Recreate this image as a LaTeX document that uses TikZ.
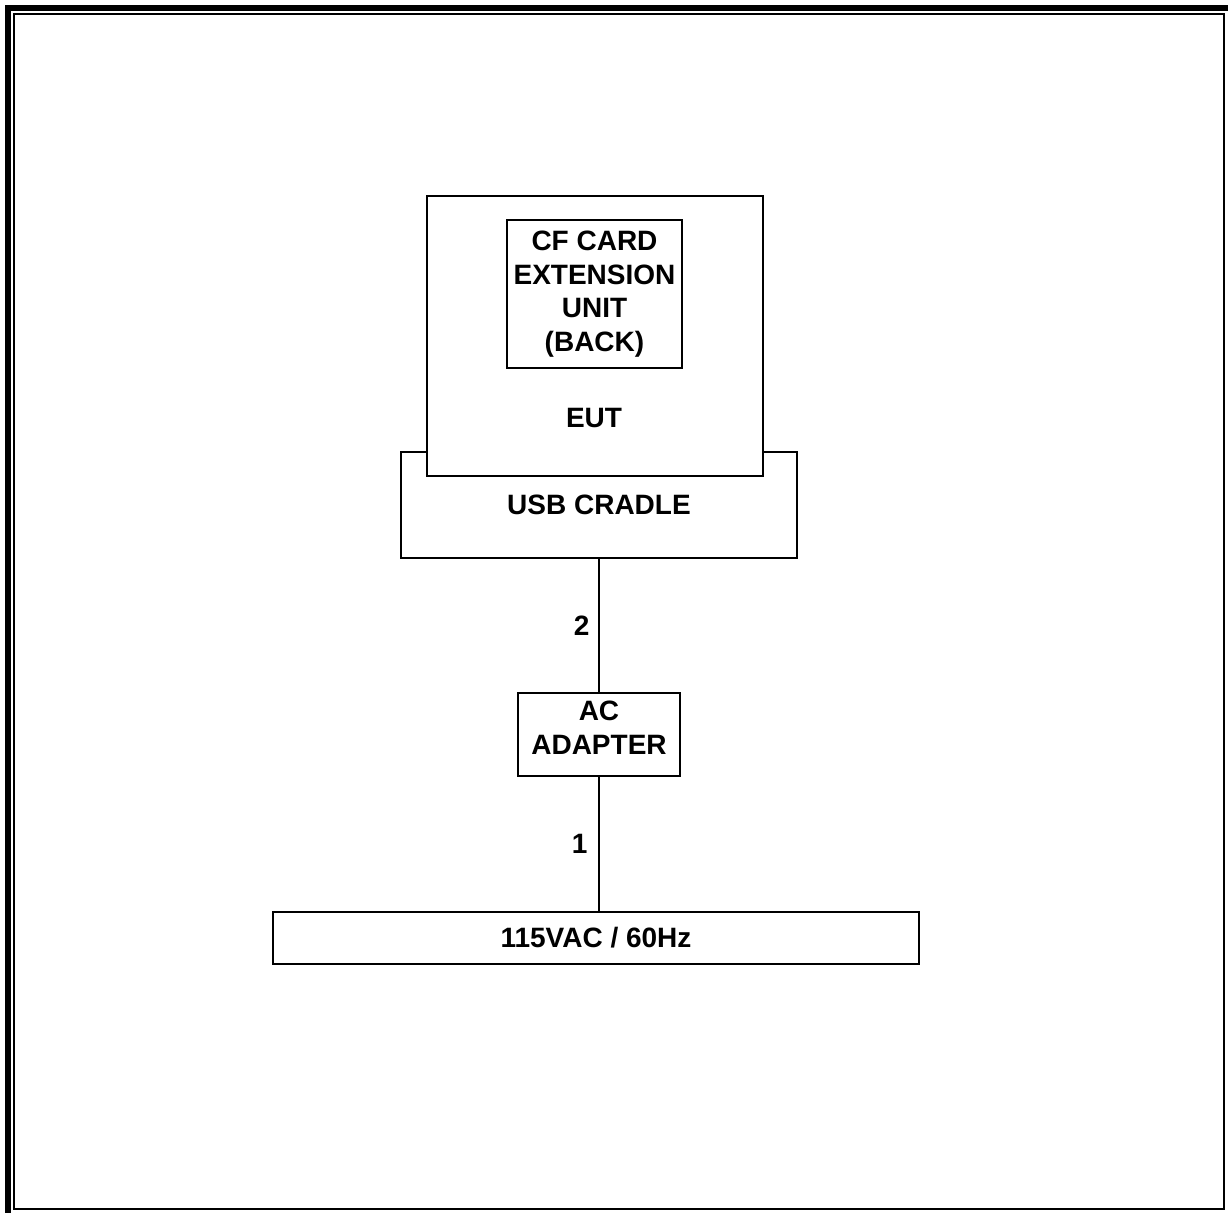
\documentclass[tikz,border=0pt]{standalone}
\usepackage{fontspec}
\setmainfont{Liberation Sans}
\usepackage{tikz}
\usetikzlibrary{positioning}

\tikzset{
  box/.style={draw=black, line width=1pt, fill=white, inner sep=0pt, align=center},
  lbl/.style={font=\bfseries\fontsize{14}{16.8}\selectfont, align=center},
  wire/.style={draw=black, line width=1pt}
}

\begin{document}
\begin{tikzpicture}[x=0.5pt,y=-0.5pt]
                \clip (0,0) rectangle (1228,1212);
                % frame
                \draw[line width=3pt] (8,8) rectangle (1232,1217);
                \draw[line width=1pt] (14,14) rectangle (1224,1209);
                % cradle first, eut covers its top edge
                \node[box, lbl, minimum width=198pt, minimum height=53pt] (cradle) at (599,504.5) {USB CRADLE};
                \node[box, minimum width=168pt, minimum height=140pt] (eut) at (595,336) {};
                \node[box, lbl, minimum width=87.5pt, minimum height=74pt] (cfcard) at (594.5,294) {CF CARD\\EXTENSION\\UNIT\\(BACK)};
                \node[lbl] (euttext) at (594,418) {EUT};
                \node[box, minimum width=81pt, minimum height=41.5pt] (adapter) at (599,734.5) {};
                \node[lbl] (adaptertext) at (599,728) {AC\\ADAPTER};
                \node[box, lbl, minimum width=323pt, minimum height=26pt] (mains) at (596,938) {115VAC / 60Hz};
                % cables
                \draw[wire] (cradle.south) -- (adapter.north) node[lbl, midway, left=1pt] (c2) {2};
                \draw[wire] (adapter.south) -- (adapter.south |- mains.north) node[lbl, midway, left=2pt] (c1) {1};
\end{tikzpicture}
\end{document}
